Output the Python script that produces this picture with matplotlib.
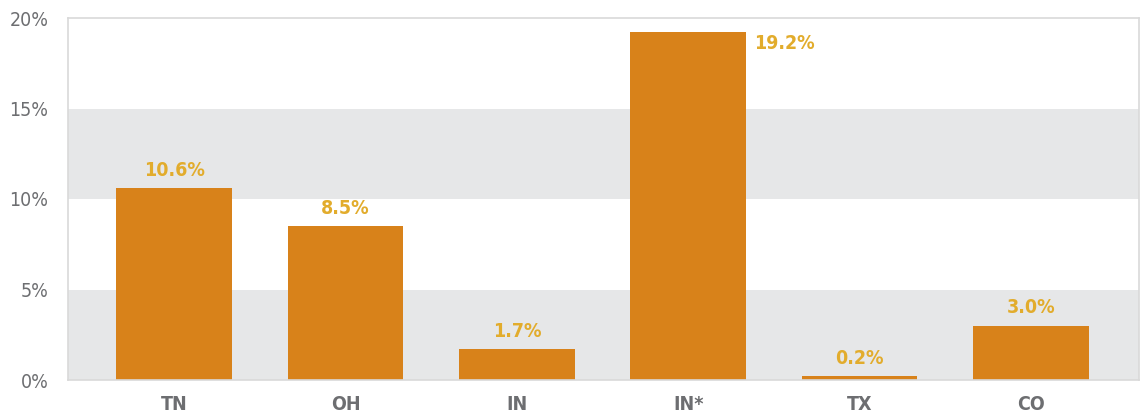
import matplotlib.pyplot as plt

states = ["TN", "OH", "IN", "IN*", "TX", "CO"]
values = [10.6, 8.5, 1.7, 19.2, 0.2, 3.0]
yticks = [0, 5, 10, 15, 20]

plt.rcParams["font.family"] = ["DejaVu Sans"]
plt.rcParams["font.stretch"] = "condensed"

bar_color = "#D8821A"
label_color = "#E2AC2C"
tick_color = "#6D6E71"
band_color = "#E6E7E8"
edge_color = "#D9D9D9"

fig = plt.figure(figsize=(11.4, 4.17), dpi=100)
ax = fig.add_axes([68 / 1140, 1 - 380 / 417, 1 - 68 / 1140 - 0.001, (380 - 18) / 417])

# alternating grey bands
for lo, hi in [(0, 5), (10, 15)]:
    ax.axhspan(lo, hi, color=band_color, lw=0, zorder=0)

x = range(len(states))
ax.bar(x, values, width=0.676, color=bar_color, zorder=2)

for i, v in enumerate(values):
    label = f"{v:.1f}%"
    if v > 18:
        # tallest bar gets its label beside the top
        ax.annotate(label, (i + 0.338, v), xytext=(6, -1), textcoords="offset points",
                    ha="left", va="top", color=label_color, fontsize=14, fontweight="bold")
    else:
        ax.annotate(label, (i, v), xytext=(0, 6), textcoords="offset points",
                    ha="center", va="bottom", color=label_color, fontsize=14, fontweight="bold")

ax.set_xlim(-0.62, 5.63)
ax.set_ylim(0, 20)
ax.set_yticks(yticks)
ax.set_yticklabels([f"{t}%" for t in yticks])
ax.set_xticks(list(x))
ax.set_xticklabels(states)
ax.tick_params(axis="y", length=0, pad=14, labelsize=14, labelcolor=tick_color)
ax.tick_params(axis="x", length=0, pad=11, labelsize=14, labelcolor=tick_color)
for lab in ax.get_xticklabels():
    lab.set_fontweight("bold")
for s in ax.spines.values():
    s.set_color(edge_color)
    s.set_linewidth(1.2)

fig.savefig("out.png", dpi=100)
